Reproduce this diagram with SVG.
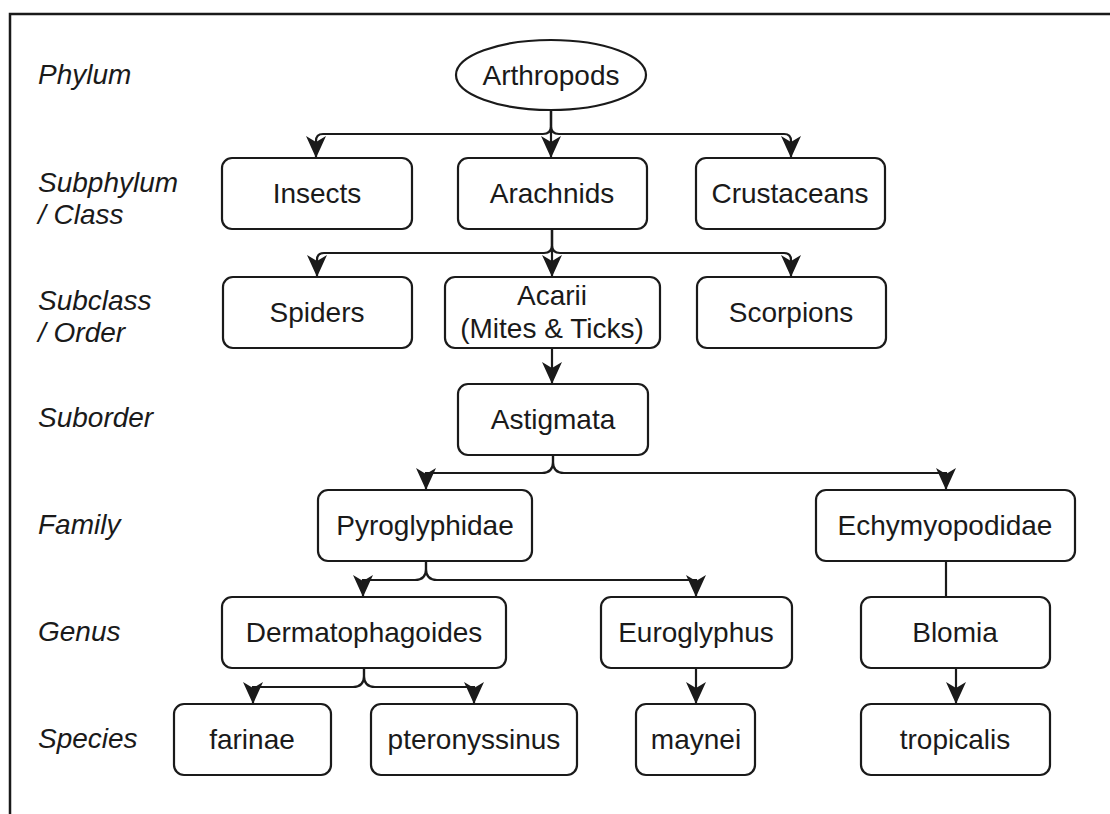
<svg xmlns="http://www.w3.org/2000/svg" width="1110" height="814" viewBox="0 0 1110 814">
<style>
.bx{fill:#fff;stroke:#1a1a1a;stroke-width:2.2}
.t{font-family:"Liberation Sans",Arial,sans-serif;font-size:28px;fill:#1a1a1a;text-anchor:middle}
.lb{font-family:"Liberation Sans",Arial,sans-serif;font-size:28px;font-style:italic;fill:#1a1a1a}
.c{fill:none;stroke:#1a1a1a;stroke-width:2.2}
</style>
<defs>
<marker id="ar" markerUnits="userSpaceOnUse" markerWidth="22" markerHeight="20" viewBox="0 0 22 20" refX="22" refY="10" orient="auto">
<path d="M0,0 L22,10 L0,20 L6,10 Z" fill="#1a1a1a"/>
</marker>
</defs>
<rect width="1110" height="814" fill="#fff"/>
<path d="M10,814 V14 H1110" fill="none" stroke="#1a1a1a" stroke-width="2.5"/>
<g id="levels">
<text class="lb" x="38" y="84">Phylum</text>
<text class="lb" x="38" y="192">Subphylum</text>
<text class="lb" x="38" y="224">/ Class</text>
<text class="lb" x="38" y="310">Subclass</text>
<text class="lb" x="38" y="342">/ Order</text>
<text class="lb" x="38" y="427">Suborder</text>
<text class="lb" x="38" y="534">Family</text>
<text class="lb" x="38" y="641">Genus</text>
<text class="lb" x="38" y="748">Species</text>
</g>
<g id="connectors">
<path class="c" marker-end="url(#ar)" d="M551,110 V126 Q551,134 543,134 H323 Q316,134 316,141 V158"/>
<path class="c" marker-end="url(#ar)" d="M551,110 V158"/>
<path class="c" marker-end="url(#ar)" d="M551,110 V126 Q551,134 559,134 H784 Q791,134 791,141 V158"/>
<path class="c" marker-end="url(#ar)" d="M552,229 V245 Q552,253 544,253 H324 Q317,253 317,260 V277"/>
<path class="c" marker-end="url(#ar)" d="M552,229 V277"/>
<path class="c" marker-end="url(#ar)" d="M552,229 V245 Q552,253 560,253 H784 Q791,253 791,260 V277"/>
<path class="c" marker-end="url(#ar)" d="M552,348 V384"/>
<path class="c" marker-end="url(#ar)" d="M553,455 V462 Q553,473 542,473 H426 V490"/>
<path class="c" marker-end="url(#ar)" d="M553,455 V462 Q553,473 564,473 H946 V490"/>
<path class="c" marker-end="url(#ar)" d="M426,561 V569 Q426,580 415,580 H363 V597"/>
<path class="c" marker-end="url(#ar)" d="M426,561 V569 Q426,580 437,580 H696 V597"/>
<path class="c" marker-end="url(#ar)" d="M364,668 V676 Q364,687 353,687 H253 V704"/>
<path class="c" marker-end="url(#ar)" d="M364,668 V676 Q364,687 375,687 H474 V704"/>
<path class="c" d="M946,561 V597"/>
<path class="c" marker-end="url(#ar)" d="M696,668 V704"/>
<path class="c" marker-end="url(#ar)" d="M956,668 V704"/>
</g>
<g id="n-arthropods"><ellipse class="bx" cx="551" cy="75" rx="95" ry="35"/><text class="t" x="551" y="85">Arthropods</text></g>
<g id="n-insects"><rect class="bx" x="222" y="158" width="190" height="71" rx="10"/><text class="t" x="317" y="203">Insects</text></g>
<g id="n-arachnids"><rect class="bx" x="458" y="158" width="189" height="71" rx="10"/><text class="t" x="552" y="203">Arachnids</text></g>
<g id="n-crustaceans"><rect class="bx" x="696" y="158" width="189" height="71" rx="10"/><text class="t" x="790" y="203">Crustaceans</text></g>
<g id="n-spiders"><rect class="bx" x="223" y="277" width="189" height="71" rx="10"/><text class="t" x="317" y="322">Spiders</text></g>
<g id="n-acarii"><rect class="bx" x="445" y="277" width="215" height="71" rx="10"/><text class="t" x="552" y="305">Acarii</text><text class="t" x="552" y="338">(Mites &amp; Ticks)</text></g>
<g id="n-scorpions"><rect class="bx" x="697" y="277" width="189" height="71" rx="10"/><text class="t" x="791" y="322">Scorpions</text></g>
<g id="n-astigmata"><rect class="bx" x="458" y="384" width="190" height="71" rx="10"/><text class="t" x="553" y="429">Astigmata</text></g>
<g id="n-pyroglyphidae"><rect class="bx" x="318" y="490" width="214" height="71" rx="10"/><text class="t" x="425" y="535">Pyroglyphidae</text></g>
<g id="n-echymyopodidae"><rect class="bx" x="816" y="490" width="259" height="71" rx="10"/><text class="t" x="945" y="535">Echymyopodidae</text></g>
<g id="n-dermatophagoides"><rect class="bx" x="222" y="597" width="284" height="71" rx="10"/><text class="t" x="364" y="642">Dermatophagoides</text></g>
<g id="n-euroglyphus"><rect class="bx" x="601" y="597" width="191" height="71" rx="10"/><text class="t" x="696" y="642">Euroglyphus</text></g>
<g id="n-blomia"><rect class="bx" x="861" y="597" width="189" height="71" rx="10"/><text class="t" x="955" y="642">Blomia</text></g>
<g id="n-farinae"><rect class="bx" x="174" y="704" width="157" height="71" rx="10"/><text class="t" x="252" y="749">farinae</text></g>
<g id="n-pteronyssinus"><rect class="bx" x="371" y="704" width="206" height="71" rx="10"/><text class="t" x="474" y="749">pteronyssinus</text></g>
<g id="n-maynei"><rect class="bx" x="636" y="704" width="119" height="71" rx="10"/><text class="t" x="696" y="749">maynei</text></g>
<g id="n-tropicalis"><rect class="bx" x="861" y="704" width="189" height="71" rx="10"/><text class="t" x="955" y="749">tropicalis</text></g>
</svg>
